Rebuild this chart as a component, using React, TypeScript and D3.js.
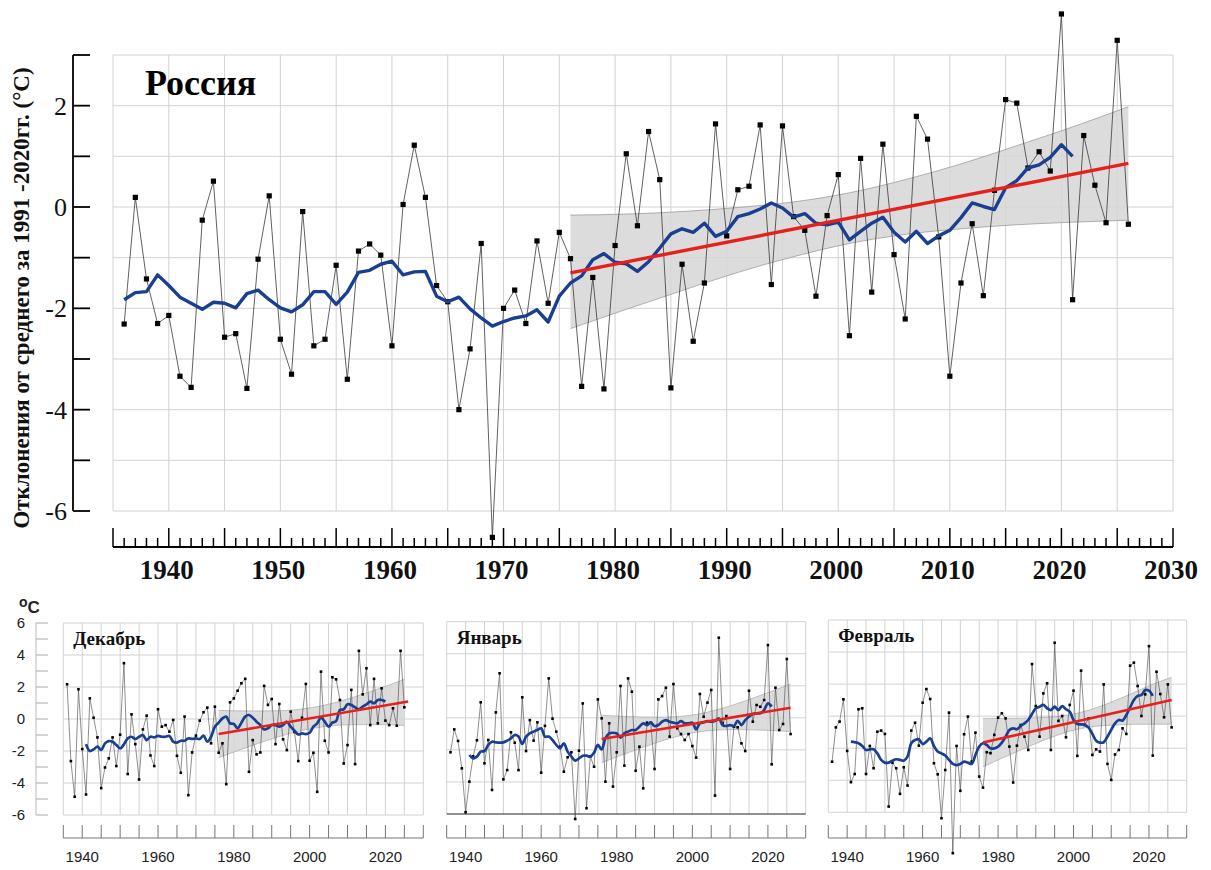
import React from 'react';
import * as d3 from 'd3';

const W = 1211;
const H = 870;

// ---- Россия: годовые аномалии температуры, 1936–2026 ----
const russiaFirstYear = 1936;
const russiaAnomaly = [
  -2.31, 0.19, -1.42, -2.30, -2.14, -3.34, -3.56, -0.26, 0.51, -2.57,
  -2.50, -3.58, -1.03, 0.22, -2.61, -3.30, -0.09, -2.74, -2.61, -1.15,
  -3.40, -0.87, -0.73, -0.95, -2.74, 0.05, 1.22, 0.19, -1.55, -1.87,
  -4.00, -2.80, -0.72, -6.52, -2.00, -1.64, -2.30, -0.67, -1.90, -0.50,
  -1.02, -3.54, -1.39, -3.59, -0.76, 1.05, -0.37, 1.49, 0.54, -3.57,
  -1.13, -2.65, -1.50, 1.64, -0.57, 0.34, 0.41, 1.62, -1.53, 1.60,
  -0.19, -0.46, -1.76, -0.17, 0.64, -2.54, 0.96, -1.68, 1.24, -0.94,
  -2.21, 1.79, 1.34, -0.59, -3.34, -1.50, -0.33, -1.75, 0.33, 2.12,
  2.05, 0.77, 1.09, 0.71, 3.81, -1.83, 1.41, 0.43, -0.31, 3.29,
  -0.34,
];
// скользящее среднее, 1936–2021
const russiaSmoothFirstYear = 1936;
const russiaSmooth = [
  -1.83, -1.69, -1.67, -1.34, -1.55, -1.78, -1.90, -2.02, -1.88, -1.90,
  -1.99, -1.71, -1.64, -1.83, -1.99, -2.07, -1.93, -1.67, -1.67, -1.92,
  -1.68, -1.29, -1.25, -1.13, -1.07, -1.34, -1.28, -1.27, -1.76, -1.87,
  -1.78, -2.01, -2.19, -2.35, -2.26, -2.19, -2.15, -2.03, -2.27, -1.76,
  -1.50, -1.36, -1.04, -0.92, -1.09, -1.12, -1.27, -1.08, -0.81, -0.53,
  -0.43, -0.50, -0.32, -0.58, -0.48, -0.19, -0.13, -0.04, 0.08, -0.02,
  -0.20, -0.13, -0.32, -0.35, -0.30, -0.65, -0.48, -0.32, -0.20, -0.50,
  -0.69, -0.48, -0.72, -0.57, -0.46, -0.21, 0.08, 0.01, -0.05, 0.38,
  0.52, 0.77, 0.83, 0.98, 1.23, 1.00,
];
const russiaTrendYears = [1976, 2026];
const russiaTrendValues = [-1.30, 0.86];
const russiaBandYears = [1976, 1981, 1986, 1991, 1996, 2001, 2006, 2011, 2016, 2021, 2026];
const russiaBandUpper = [-0.16, -0.14, -0.09, -0.01, 0.10, 0.28, 0.54, 0.85, 1.21, 1.58, 1.98];
const russiaBandLower = [-2.40, -2.02, -1.65, -1.29, -0.98, -0.72, -0.54, -0.43, -0.35, -0.30, -0.26];

const mainYTickValues = [-6, -5, -4, -3, -2, -1, 0, 1, 2, 3];
const mainYLabels = [2, 0, -2, -4, -6];
const mainXLabels = [1940, 1950, 1960, 1970, 1980, 1990, 2000, 2010, 2020, 2030];

// ---- Декабрь ----
const decFirstYear = 1936;
const decAnomaly = [
  2.17, -2.63, -4.86, 1.86, -1.88, -4.72, 1.29, 0.08, -1.15, -4.32,
  -3.03, -2.46, -1.15, -2.94, -0.98, 3.49, -3.44, 0.29, -1.57, -3.78,
  -0.65, 0.21, -2.28, -2.94, 0.61, -0.48, -0.38, -0.79, -0.06, -2.30,
  -3.36, 0.15, -4.76, -2.09, -1.04, -0.10, 0.42, 0.71, -1.52, 0.77,
  -2.11, -1.52, -4.07, 1.04, 1.29, 1.77, 2.23, 2.51, -3.30, -1.32,
  -2.21, -2.09, 2.07, 0.88, 1.25, -1.57, 0.94, -1.27, -1.94, 0.46,
  -0.81, -2.63, 0.08, 2.19, -2.61, -2.11, -4.55, 2.96, -1.36, -2.09,
  2.61, 2.48, 1.19, -2.78, -1.63, 1.82, -2.82, 4.26, 1.54, 3.17,
  -0.38, 2.51, -0.27, 1.92, -0.10, -0.38, 0.67, -0.42, 4.26, 0.73,
];
const decSmoothFirstYear = 1941;
const decSmooth = [
  -1.57, -2.00, -1.90, -1.73, -1.94, -1.52, -1.38, -1.42, -1.63, -1.84,
  -1.59, -1.21, -1.11, -1.25, -1.11, -1.00, -1.32, -1.11, -1.15, -1.06,
  -1.11, -1.11, -1.06, -1.42, -1.48, -1.36, -1.36, -1.21, -1.25, -1.21,
  -1.25, -1.04, -1.42, -1.11, -0.48, -0.23, 0.04, 0.15, -0.27, -0.31,
  -0.58, -0.23, 0.15, 0.25, 0.08, -0.17, -0.38, -0.65, -0.58, -0.38,
  -0.38, -0.48, -0.38, -0.17, -0.48, -0.73, -0.96, -0.90, -0.94, -0.86,
  -0.48, -0.27, 0.08, -0.17, -0.48, -0.23, -0.13, 0.56, 0.61, 0.92,
  0.88, 0.73, 0.61, 0.77, 0.92, 1.09, 0.98, 1.19, 1.19, 1.09,
];
const decTrendYears = [1976, 2026];
const decTrendValues = [-0.94, 1.09];
const decBandYears = [1976, 1981, 1986, 1991, 1996, 2001, 2006, 2011, 2016, 2021, 2025];
const decBandUpper = [0.54, 0.51, 0.50, 0.51, 0.57, 0.73, 0.98, 1.32, 1.71, 2.13, 2.48];
const decBandLower = [-2.42, -1.98, -1.56, -1.17, -0.83, -0.58, -0.42, -0.36, -0.35, -0.36, -0.40];

// ---- Январь ----
const janFirstYear = 1936;
const janAnomaly = [
  -2.15, -0.72, -1.44, -3.15, -5.89, -3.98, -2.40, -1.40, 0.97, -2.84,
  -1.38, -4.50, 0.34, 2.78, -3.84, -3.26, -0.90, -1.55, -3.26, 1.28,
  -2.07, -0.14, -1.42, -0.28, -3.42, -0.50, 2.46, -0.05, -0.86, -1.80,
  -3.36, -2.46, -2.15, -6.31, -2.05, 0.90, -5.64, -2.42, -3.05, 1.15,
  -0.03, -3.98, -0.34, -4.29, -2.15, 1.99, -2.98, 2.46, 1.63, -3.30,
  -1.80, -4.40, -0.30, -0.30, -3.19, 1.15, 1.36, 1.88, -1.17, 2.11,
  -0.65, -1.01, -1.38, -1.01, -1.76, -2.48, 1.49, 0.07, 0.95, 1.74,
  -4.85, 5.00, -0.34, 0.11, -3.19, -0.55, -0.59, -1.59, -2.07, 1.69,
  -0.24, 0.80, 0.69, 1.11, 4.54, -2.90, 1.88, -0.76, -0.38, 3.67,
  -1.01,
];
const janSmoothFirstYear = 1941;
const janSmooth = [
  -2.32, -2.53, -2.42, -2.11, -2.07, -1.69, -1.49, -1.53, -1.55, -1.53,
  -1.42, -1.28, -1.07, -1.17, -1.63, -1.17, -0.97, -0.86, -0.76, -0.65,
  -1.17, -1.17, -1.38, -1.69, -1.90, -1.59, -2.11, -2.42, -2.67, -2.53,
  -2.36, -2.36, -2.42, -2.17, -1.69, -1.97, -1.28, -0.97, -0.93, -0.97,
  -1.24, -0.97, -0.86, -0.76, -0.76, -0.55, -0.34, -0.45, -0.30, -0.51,
  -0.45, -0.24, -0.14, -0.24, -0.30, -0.34, -0.20, -0.34, -0.34, -0.30,
  -0.72, -0.34, -0.28, -0.20, -0.24, -0.20, -0.03, -0.45, -0.51, -0.45,
  -0.51, -0.18, -0.45, -0.14, 0.07, 0.24, 0.28, 0.28, 0.49, 0.90,
  0.70,
];
const janTrendYears = [1976, 2026];
const janTrendValues = [-1.32, 0.63];
const janBandYears = [1976, 1981, 1986, 1991, 1996, 2001, 2006, 2011, 2016, 2021, 2026];
const janBandUpper = [0.16, 0.10, 0.06, 0.04, 0.08, 0.21, 0.47, 0.82, 1.23, 1.66, 2.11];
const janBandLower = [-2.80, -2.35, -1.92, -1.51, -1.16, -0.90, -0.77, -0.73, -0.75, -0.79, -0.85];

// ---- Февраль ----
const febFirstYear = 1936;
const febAnomaly = [
  -2.84, -0.70, -0.34, 1.05, -2.17, -4.12, -3.61, 0.43, 0.49, -3.61,
  -1.86, -3.25, -0.97, -0.90, -1.11, -5.64, -2.90, -3.25, -4.85, -3.19,
  -4.33, -0.90, -0.41, -1.84, 0.84, 1.69, 1.07, -2.94, -3.63, -6.37,
  -3.36, 0.22, -8.55, -1.86, -4.66, -1.13, -0.03, -2.84, -1.03, -3.77,
  -4.46, -2.25, -2.31, -1.17, -0.09, 0.18, -0.14, -1.90, -4.14, -1.84,
  -0.55, -1.28, -2.11, 3.25, 0.63, -1.28, 1.42, 2.05, -2.11, 4.58,
  -0.30, 0.01, -1.32, 0.70, 1.59, -2.48, 2.84, -0.55, -0.14, -2.42,
  -2.07, -2.21, 1.98, -2.98, -3.98, -2.39, -2.11, -0.76, -1.11, 3.15,
  3.34, 1.88, 0.01, 1.36, 4.37, -2.46, 2.77, 1.38, -0.07, 1.98,
  -0.70,
];
const febSmoothFirstYear = 1941;
const febSmooth = [
  -1.59, -1.63, -1.69, -1.86, -2.11, -2.07, -2.07, -2.32, -2.73, -2.90,
  -2.90, -2.78, -2.69, -2.73, -2.78, -2.53, -1.69, -1.49, -1.44, -1.74,
  -1.59, -1.38, -1.86, -2.21, -2.32, -2.46, -2.73, -2.98, -3.05, -2.98,
  -2.84, -2.90, -2.98, -2.42, -1.90, -1.69, -1.80, -2.01, -2.01, -1.90,
  -1.65, -1.28, -0.86, -0.76, -0.82, -0.61, -0.45, -0.24, 0.14, 0.49,
  0.59, 0.70, 0.49, 0.38, 0.59, 0.38, 0.63, 0.43, 0.28, -0.24,
  -0.49, -0.51, -0.55, -0.72, -1.11, -1.53, -1.65, -1.63, -1.28, -0.86,
  -0.45, -0.24, -0.28, 0.07, 0.55, 1.01, 1.26, 1.32, 1.63, 1.59,
  1.26,
];
const febTrendYears = [1976, 2026];
const febTrendValues = [-1.65, 1.01];
const febBandYears = [1976, 1981, 1986, 1991, 1996, 2001, 2006, 2011, 2016, 2021, 2026];
const febBandUpper = [-0.14, -0.14, -0.13, -0.09, -0.01, 0.18, 0.52, 0.97, 1.47, 1.99, 2.42];
const febBandLower = [-3.16, -2.63, -2.11, -1.61, -1.16, -0.82, -0.63, -0.55, -0.51, -0.50, -0.50];

const smallYLabels = [6, 4, 2, 0, -2, -4, -6];
const smallXLabels = [1940, 1960, 1980, 2000, 2020];

const SERIF = "'Liberation Serif', 'Times New Roman', serif";
const SANS = "'Liberation Sans', Arial, sans-serif";
const BLUE = '#1a3f91';
const RED = '#e5211d';
const GRID = '#d2d2d2';
const BAND = '#d6d6d6';

type Pt = { year: number; v: number };
type BandPt = { year: number; hi: number; lo: number };

const toPts = (first: number, vals: number[]): Pt[] => vals.map((v, i) => ({ year: first + i, v }));
const zipPts = (years: number[], vals: number[]): Pt[] => years.map((year, i) => ({ year, v: vals[i] }));
const zipBand = (years: number[], hi: number[], lo: number[]): BandPt[] =>
  years.map((year, i) => ({ year, hi: hi[i], lo: lo[i] }));

function MainChart() {
  const x = d3.scaleLinear().domain([1935, 2030]).range([113, 1173]);
  const y = d3.scaleLinear().domain([-6, 3]).range([511, 55]);

  const anomaly = toPts(russiaFirstYear, russiaAnomaly);
  const smooth = toPts(russiaSmoothFirstYear, russiaSmooth);
  const trend = zipPts(russiaTrendYears, russiaTrendValues);
  const band = zipBand(russiaBandYears, russiaBandUpper, russiaBandLower);

  const line = d3.line<Pt>().x((d) => x(d.year)).y((d) => y(d.v));
  const area = d3
    .area<BandPt>()
    .x((d) => x(d.year))
    .y0((d) => y(d.lo))
    .y1((d) => y(d.hi))
    .curve(d3.curveMonotoneX);
  const edgeHi = d3.line<BandPt>().x((d) => x(d.year)).y((d) => y(d.hi)).curve(d3.curveMonotoneX);
  const edgeLo = d3.line<BandPt>().x((d) => x(d.year)).y((d) => y(d.lo)).curve(d3.curveMonotoneX);

  const gridYears = d3.range(1935, 2031, 5);
  const allYears = d3.range(1935, 2031, 1);
  const axisY = 547;

  return (
    <g>
      {/* сетка */}
      {gridYears.map((yr) => (
        <line key={'gv' + yr} x1={x(yr)} x2={x(yr)} y1={y(3)} y2={y(-6)} stroke={GRID} strokeWidth={1} />
      ))}
      {mainYTickValues.map((v) => (
        <line key={'gh' + v} x1={x(1935)} x2={x(2030)} y1={y(v)} y2={y(v)} stroke={GRID} strokeWidth={1} />
      ))}

      {/* доверительная полоса тренда */}
      <path d={area(band) || ''} fill={BAND} fillOpacity={0.85} />
      <path d={edgeHi(band) || ''} fill="none" stroke="#9c9c9c" strokeWidth={0.8} />
      <path d={edgeLo(band) || ''} fill="none" stroke="#9c9c9c" strokeWidth={0.8} />

      {/* годовые значения */}
      <path d={line(anomaly) || ''} fill="none" stroke="#3a3a3a" strokeWidth={0.8} />
      {anomaly.map((d) => (
        <rect key={'m' + d.year} x={x(d.year) - 2.6} y={y(d.v) - 2.6} width={5.2} height={5.2} fill="#000" />
      ))}

      {/* скользящее среднее и тренд */}
      <path d={line(smooth) || ''} fill="none" stroke={BLUE} strokeWidth={3.4} strokeLinejoin="round" />
      <path d={line(trend) || ''} fill="none" stroke={RED} strokeWidth={3.4} />

      {/* ось Y */}
      <line x1={73} x2={73} y1={y(3)} y2={y(-6)} stroke="#000" strokeWidth={1.8} />
      {mainYTickValues.map((v) => (
        <line key={'yt' + v} x1={73} x2={90} y1={y(v)} y2={y(v)} stroke="#000" strokeWidth={1.8} />
      ))}
      {mainYLabels.map((v) => (
        <text key={'yl' + v} x={67} y={y(v)} dy="0.35em" textAnchor="end" fontFamily={SERIF} fontSize={26} fill="#111">
          {v}
        </text>
      ))}
      <text
        transform={`translate(29, 298) rotate(-90)`}
        textAnchor="middle"
        fontFamily={SERIF}
        fontWeight="bold"
        fontSize={23}
        fill="#111"
      >
        Отклонения от среднего за 1991 -2020гг. (°C)
      </text>

      {/* ось X */}
      <line x1={x(1935)} x2={x(2030)} y1={axisY} y2={axisY} stroke="#000" strokeWidth={2} />
      {allYears.map((yr) => (
        <line
          key={'xt' + yr}
          x1={x(yr)}
          x2={x(yr)}
          y1={axisY}
          y2={yr % 5 === 0 ? axisY - 19 : axisY - 9}
          stroke="#000"
          strokeWidth={1.5}
        />
      ))}
      {mainXLabels.map((yr) => (
        <text key={'xl' + yr} x={x(yr) - 2} y={579} textAnchor="middle" fontFamily={SERIF} fontWeight="bold" fontSize={27} fill="#111">
          {yr}
        </text>
      ))}

      <text x={145} y={95} fontFamily={SERIF} fontWeight="bold" fontSize={36} fill="#000">
        Россия
      </text>
    </g>
  );
}

type PanelProps = {
  title: string;
  x0: number;
  x1: number;
  yTop: number;
  yBot: number;
  first: number;
  values: number[];
  smoothFirst: number;
  smooth: number[];
  trendYears: number[];
  trendValues: number[];
  bandYears: number[];
  bandUpper: number[];
  bandLower: number[];
  darkBottom?: boolean;
  showYAxis?: boolean;
};

function SmallPanel(p: PanelProps) {
  const x = d3.scaleLinear().domain([1935, 2030]).range([p.x0, p.x1]);
  const y = d3.scaleLinear().domain([-6, 6]).range([p.yBot, p.yTop]);
  const anomaly = toPts(p.first, p.values);
  const smooth = toPts(p.smoothFirst, p.smooth);
  const trend = zipPts(p.trendYears, p.trendValues);
  const band = zipBand(p.bandYears, p.bandUpper, p.bandLower);

  const line = d3.line<Pt>().x((d) => x(d.year)).y((d) => y(d.v));
  const smoothLine = d3.line<Pt>().x((d) => x(d.year)).y((d) => y(d.v)).curve(d3.curveCatmullRom.alpha(0.5));
  const area = d3
    .area<BandPt>()
    .x((d) => x(d.year))
    .y0((d) => y(d.lo))
    .y1((d) => y(d.hi))
    .curve(d3.curveMonotoneX);
  const edgeHi = d3.line<BandPt>().x((d) => x(d.year)).y((d) => y(d.hi)).curve(d3.curveMonotoneX);
  const edgeLo = d3.line<BandPt>().x((d) => x(d.year)).y((d) => y(d.lo)).curve(d3.curveMonotoneX);

  const gridYears = d3.range(1935, 2031, 5);
  const gridVals = d3.range(-6, 7, 2);
  const tickTop = 825;
  const tickBase = 838;

  return (
    <g>
      {gridYears.map((yr) => (
        <line key={'gv' + yr} x1={x(yr)} x2={x(yr)} y1={y(6)} y2={y(-6)} stroke={GRID} strokeWidth={1} />
      ))}
      {gridVals.map((v) => (
        <line
          key={'gh' + v}
          x1={x(1935)}
          x2={x(2030)}
          y1={y(v)}
          y2={y(v)}
          stroke={p.darkBottom && v === -6 ? '#222' : GRID}
          strokeWidth={1}
        />
      ))}

      <path d={area(band) || ''} fill={BAND} fillOpacity={0.85} />
      <path d={edgeHi(band) || ''} fill="none" stroke="#a0a0a0" strokeWidth={0.6} />
      <path d={edgeLo(band) || ''} fill="none" stroke="#a0a0a0" strokeWidth={0.6} />

      <path d={line(anomaly) || ''} fill="none" stroke="#444" strokeWidth={0.6} />
      {anomaly.map((d) => (
        <rect key={'m' + d.year} x={x(d.year) - 1.3} y={y(d.v) - 1.3} width={2.6} height={2.6} fill="#000" />
      ))}

      <path d={smoothLine(smooth) || ''} fill="none" stroke={BLUE} strokeWidth={2.7} strokeLinejoin="round" />
      <path d={line(trend) || ''} fill="none" stroke={RED} strokeWidth={2.6} />

      <text x={p.x0 + 10} y={p.yTop + 22} fontFamily={SERIF} fontWeight="bold" fontSize={19} fill="#111">
        {p.title}
      </text>

      {/* нижняя шкала годов */}
      <line x1={x(1935)} x2={x(2030)} y1={tickBase} y2={tickBase} stroke="#777" strokeWidth={1} />
      {gridYears.map((yr) => (
        <line key={'xt' + yr} x1={x(yr)} x2={x(yr)} y1={tickTop} y2={tickBase} stroke="#777" strokeWidth={1} />
      ))}
      {smallXLabels.map((yr) => (
        <text key={'xl' + yr} x={x(yr)} y={862} textAnchor="middle" fontFamily={SANS} fontSize={15} fill="#222">
          {yr}
        </text>
      ))}

      {p.showYAxis && (
        <g>
          <line x1={36} x2={36} y1={y(6)} y2={y(-6)} stroke="#bbb" strokeWidth={1} />
          {d3.range(-6, 7, 1).map((v) => (
            <line key={'yt' + v} x1={36} x2={48} y1={y(v)} y2={y(v)} stroke="#aaa" strokeWidth={1} />
          ))}
          {smallYLabels.map((v) => (
            <text key={'yl' + v} x={25} y={y(v)} dy="0.35em" textAnchor="end" fontFamily={SANS} fontSize={15} fill="#222">
              {v}
            </text>
          ))}
          <text x={19} y={613} fontFamily={SANS} fontWeight="bold" fill="#222">
            <tspan fontSize={14} dy={-6}>o</tspan>
            <tspan fontSize={17} dy={6}>C</tspan>
          </text>
        </g>
      )}
    </g>
  );
}

export default function App() {
  return (
    <svg
      width={W}
      height={H}
      viewBox={`0 0 ${W} ${H}`}
      style={{ display: 'block', position: 'absolute', left: 0, top: 0, background: '#fff' }}
    >
      <rect width={W} height={H} fill="#fff" />
      <MainChart />
      <SmallPanel
        title="Декабрь"
        x0={63.3}
        x1={423.3}
        yTop={623}
        yBot={815}
        first={decFirstYear}
        values={decAnomaly}
        smoothFirst={decSmoothFirstYear}
        smooth={decSmooth}
        trendYears={decTrendYears}
        trendValues={decTrendValues}
        bandYears={decBandYears}
        bandUpper={decBandUpper}
        bandLower={decBandLower}
        showYAxis
      />
      <SmallPanel
        title="Январь"
        x0={446.7}
        x1={805.7}
        yTop={621.7}
        yBot={814}
        first={janFirstYear}
        values={janAnomaly}
        smoothFirst={janSmoothFirstYear}
        smooth={janSmooth}
        trendYears={janTrendYears}
        trendValues={janTrendValues}
        bandYears={janBandYears}
        bandUpper={janBandUpper}
        bandLower={janBandLower}
        darkBottom
      />
      <SmallPanel
        title="Февраль"
        x0={828.3}
        x1={1186.7}
        yTop={620}
        yBot={812.3}
        first={febFirstYear}
        values={febAnomaly}
        smoothFirst={febSmoothFirstYear}
        smooth={febSmooth}
        trendYears={febTrendYears}
        trendValues={febTrendValues}
        bandYears={febBandYears}
        bandUpper={febBandUpper}
        bandLower={febBandLower}
      />
    </svg>
  );
}
